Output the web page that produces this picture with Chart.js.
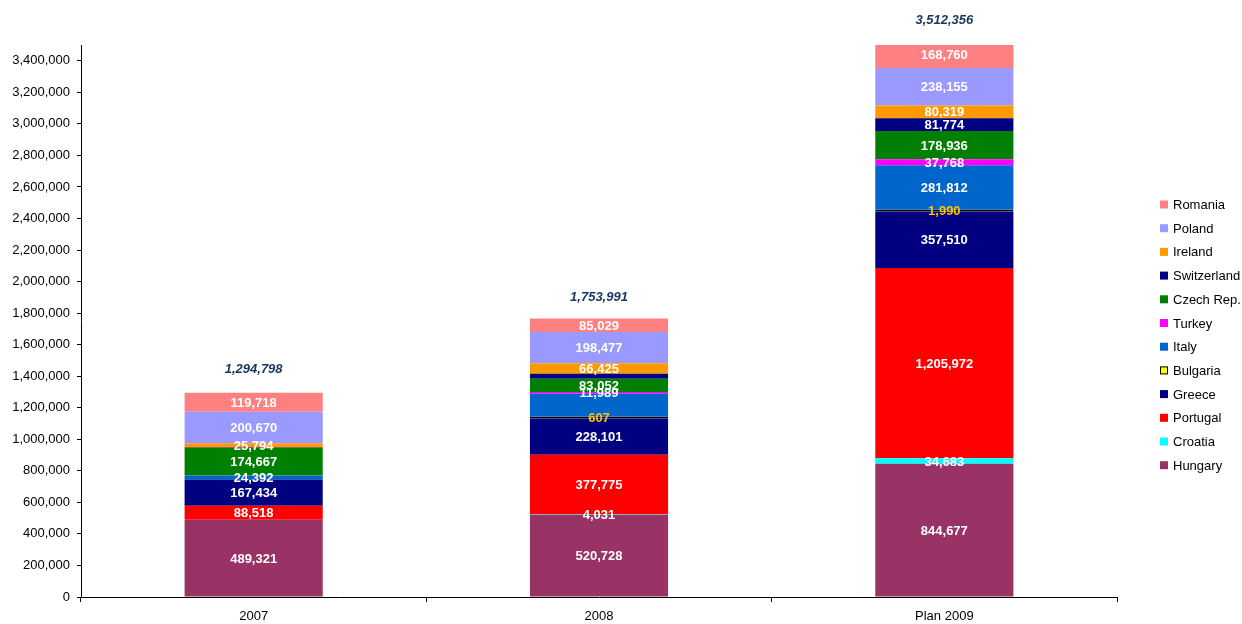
<!DOCTYPE html>
<html>
<head>
<meta charset="utf-8">
<script src="https://cdn.jsdelivr.net/npm/chart.js@4.4.1/dist/chart.umd.min.js"></script>
<style>
  html, body { margin: 0; padding: 0; background: #ffffff; }
  #wrap { position: relative; width: 1242px; height: 624px; }
</style>
</head>
<body>
<div id="wrap"><canvas id="c" width="1242" height="624"></canvas></div>
<script>
// Categories and per-country values (stacked bottom to top)
const categories = ['2007', '2008', 'Plan 2009'];
const hungary     = [489321, 520728, 844677];
const croatia     = [null, 4031, 34683];
const portugal    = [88518, 377775, 1205972];
const greece      = [167434, 228101, 357510];
const bulgaria    = [null, 607, 1990];
const italy       = [24392, 145000, 281812];
const turkey      = [null, 11989, 37768];
const czechRep    = [174667, 83052, 178936];
const switzerland = [4284, 32777, 81774];
const ireland     = [25794, 66425, 80319];
const poland      = [200670, 198477, 238155];
const romania     = [119718, 85029, 168760];

// Segments that carry no value label: [series, category index]
const unlabelled = [['Switzerland', 0], ['Switzerland', 1], ['Italy', 1]];

// Y-axis tick values
const yTicks = [0, 200000, 400000, 600000, 800000, 1000000, 1200000, 1400000, 1600000,
                1800000, 2000000, 2200000, 2400000, 2600000, 2800000, 3000000, 3200000, 3400000];

const FONT = "'Liberation Sans', Arial, sans-serif";
Chart.defaults.font.family = FONT;
Chart.defaults.font.size = 13;
Chart.defaults.color = '#000000';

const fmt = v => Number(v).toLocaleString('en-US');

function series(label, data, color, extra) {
  return Object.assign({ label, data, backgroundColor: color, borderWidth: 0, labelColor: '#ffffff' }, extra || {});
}

const datasets = [
  series('Hungary', hungary, '#993366'),
  series('Croatia', croatia, '#00FFFF'),
  series('Portugal', portugal, '#FF0000'),
  series('Greece', greece, '#000080'),
  series('Bulgaria', bulgaria, '#FFFF00', { borderColor: '#000000', borderWidth: 1, borderSkipped: false, minBarLength: 2, labelColor: '#FFC000' }),
  series('Italy', italy, '#0066CC'),
  series('Turkey', turkey, '#FF00FF'),
  series('Czech Rep.', czechRep, '#008000'),
  series('Switzerland', switzerland, '#000080'),
  series('Ireland', ireland, '#FF9900'),
  series('Poland', poland, '#9999FF'),
  series('Romania', romania, '#FF8080')
];

// Value labels centred in each segment, plus stack totals above each bar
const valueLabels = {
  id: 'valueLabels',
  afterDatasetsDraw(chart) {
    const ctx = chart.ctx;
    ctx.save();
    ctx.textAlign = 'center';
    ctx.textBaseline = 'middle';
    ctx.font = 'bold 13px ' + FONT;
    chart.data.datasets.forEach((ds, i) => {
      const meta = chart.getDatasetMeta(i);
      meta.data.forEach((el, j) => {
        const v = ds.data[j];
        if (v === null || v === undefined) return;
        if (unlabelled.some(([s, k]) => s === ds.label && k === j)) return;
        ctx.fillStyle = ds.labelColor;
        ctx.fillText(fmt(v), el.x, (el.y + el.base) / 2 + 1);
      });
    });
    const yScale = chart.scales.y;
    const first = chart.getDatasetMeta(0);
    ctx.font = 'italic bold 13px ' + FONT;
    ctx.fillStyle = '#17375E';
    categories.forEach((c, j) => {
      const total = chart.data.datasets.reduce((s, ds) => s + (ds.data[j] || 0), 0);
      const y = yScale.getPixelForValue(total) - 23;
      ctx.fillText(fmt(total), first.data[j].x, y);
    });
    ctx.restore();
  }
};

// Legend on the right, top series first
const sideLegend = {
  id: 'sideLegend',
  afterDraw(chart) {
    const ctx = chart.ctx;
    const items = chart.data.datasets.slice().reverse();
    const x0 = 1160, y0 = 204.5, step = 23.7;
    ctx.save();
    ctx.font = '13px ' + FONT;
    ctx.textBaseline = 'middle';
    ctx.textAlign = 'left';
    items.forEach((ds, i) => {
      const y = y0 + i * step;
      ctx.fillStyle = ds.backgroundColor;
      ctx.fillRect(x0, y - 4, 8, 8);
      if (ds.label === 'Bulgaria') {
        ctx.strokeStyle = '#000000';
        ctx.lineWidth = 1;
        ctx.strokeRect(x0 + 0.5, y - 3.5, 7, 7);
      }
      ctx.fillStyle = '#000000';
      ctx.fillText(ds.label, x0 + 13, y + 1);
    });
    ctx.restore();
  }
};

new Chart(document.getElementById('c'), {
  type: 'bar',
  data: { labels: categories, datasets },
  options: {
    responsive: false,
    animation: false,
    devicePixelRatio: 1,
    layout: { padding: { top: 45, right: 125, left: 0, bottom: 0 } },
    datasets: { bar: { categoryPercentage: 1.0, barPercentage: 0.4 } },
    plugins: { legend: { display: false }, tooltip: { enabled: false } },
    scales: {
      x: {
        stacked: true,
        grid: { drawOnChartArea: false, drawTicks: true, tickLength: 5, color: '#000000', offset: true },
        border: { color: '#000000', width: 1 },
        ticks: { color: '#000000', padding: 7, font: { size: 13 } },
        afterFit(s) { s.height = 27; }
      },
      y: {
        stacked: true,
        min: 0,
        max: 3500000,
        afterBuildTicks(s) { s.ticks = yTicks.map(v => ({ value: v })); },
        grid: { drawOnChartArea: false, drawTicks: true, tickLength: 4, color: '#000000' },
        border: { color: '#000000', width: 1 },
        ticks: { color: '#000000', padding: 7, font: { size: 13 }, callback: v => fmt(v) },
        afterFit(s) { s.width = 81; }
      }
    }
  },
  plugins: [valueLabels, sideLegend]
});
</script>
</body>
</html>
